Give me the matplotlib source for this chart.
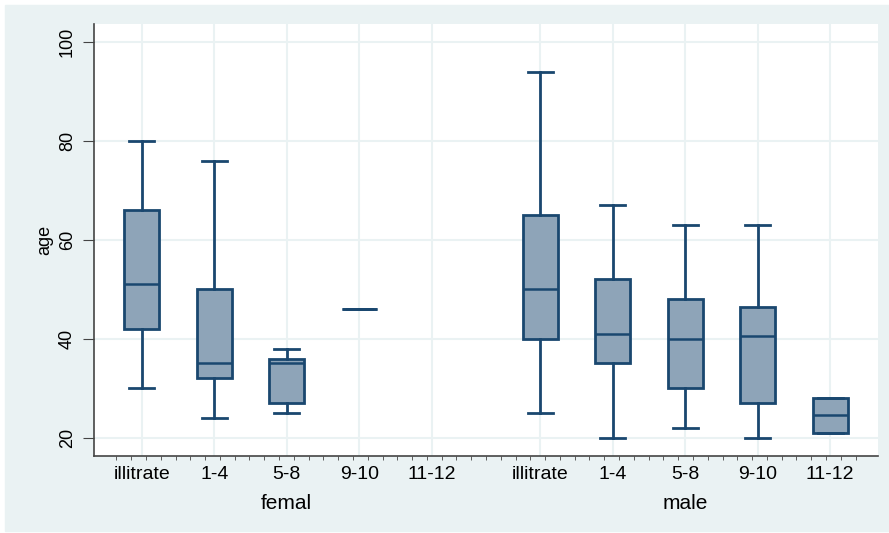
import numpy as np
import matplotlib
matplotlib.use('Agg')
import matplotlib.pyplot as plt
import matplotlib.patches as patches

plt.rcParams['font.family'] = ['Liberation Sans', 'DejaVu Sans']

edu = ['illitrate', '1-4', '5-8', '9-10', '11-12']
sexes = ['femal', 'male']

fem_lo = [30, 24, 25, 46, None]
fem_q1 = [42, 32, 27, 46, None]
fem_med = [51, 35, 35, 46, None]
fem_q3 = [66, 50, 36, 46, None]
fem_hi = [80, 76, 38, 46, None]

male_lo = [25, 20, 22, 20, 21]
male_q1 = [40, 35, 30, 27, 21]
male_med = [50, 41, 40, 40.5, 24.5]
male_q3 = [65, 52, 48, 46.5, 28]
male_hi = [94, 67, 63, 63, 28]

y_ticks = [20, 40, 60, 80, 100]

NAVY = '#1a476f'
FILL = '#8ea4b8'
GRID = '#eaf2f3'
BG = '#eaf2f3'


def main() -> None:
    fig = plt.figure(figsize=(8.89, 5.33), dpi=100, facecolor='white')
    fig.patches.append(patches.Rectangle((5 / 889, 2 / 533), 884 / 889, 526 / 533,
                                         transform=fig.transFigure, color=BG, zorder=-10))
    ax = fig.add_axes([94 / 889, 1 - 456 / 533, (878 - 94) / 889, (456 - 24) / 533])
    ax.set_facecolor('white')

    n = len(edu)
    groups = [(fem_lo, fem_q1, fem_med, fem_q3, fem_hi),
              (male_lo, male_q1, male_med, male_q3, male_hi)]
    offsets = [1.0, n + 1.5]

    stats, pos = [], []
    centers, labels = [], []
    for g, off in zip(groups, offsets):
        lo, q1, med, q3, hi = g
        for i in range(n):
            centers.append(off + i)
            labels.append(edu[i])
            if med[i] is None:
                continue
            stats.append(dict(whislo=lo[i], q1=q1[i], med=med[i], q3=q3[i],
                              whishi=hi[i], fliers=[]))
            pos.append(off + i)

    ax.bxp(stats, positions=pos, widths=0.48, capwidths=0.345, patch_artist=True,
           showfliers=False, manage_ticks=False,
           boxprops=dict(facecolor=FILL, edgecolor=NAVY, linewidth=2),
           medianprops=dict(color=NAVY, linewidth=1.8),
           whiskerprops=dict(color=NAVY, linewidth=2),
           capprops=dict(color=NAVY, linewidth=2))

    ax.set_xlim(0.34, offsets[1] + n - 1 + 0.66)
    ax.set_ylim(16.3, 103.6)

    ax.set_xticks(centers)
    ax.set_xticklabels(labels, fontsize=14)
    ax.set_xticks(np.linspace(0.65, 10.85, 51), minor=True)
    ax.tick_params(axis='x', which='major', length=0, pad=7)
    ax.tick_params(axis='x', which='minor', length=3, color='#444444')
    ax.set_yticks(y_ticks)
    ax.set_yticklabels([str(t) for t in y_ticks], rotation=90, va='center', fontsize=13)
    ax.tick_params(axis='y', length=8, color='#444444', pad=5)

    ax.grid(True, which='major', color=GRID, linewidth=1.5)
    ax.set_axisbelow(True)
    for s in ['top', 'right']:
        ax.spines[s].set_visible(False)
    for s in ['left', 'bottom']:
        ax.spines[s].set_color('#444444')
        ax.spines[s].set_linewidth(1.2)

    ax.set_ylabel('age', fontsize=13, labelpad=4)
    for k, off in enumerate(offsets):
        ax.text(off + (n - 1) / 2, -0.11, sexes[k], transform=ax.get_xaxis_transform(),
                ha='center', va='center', fontsize=15)

    fig.savefig('out.png', dpi=100, facecolor=fig.get_facecolor())


if __name__ == '__main__':
    main()
